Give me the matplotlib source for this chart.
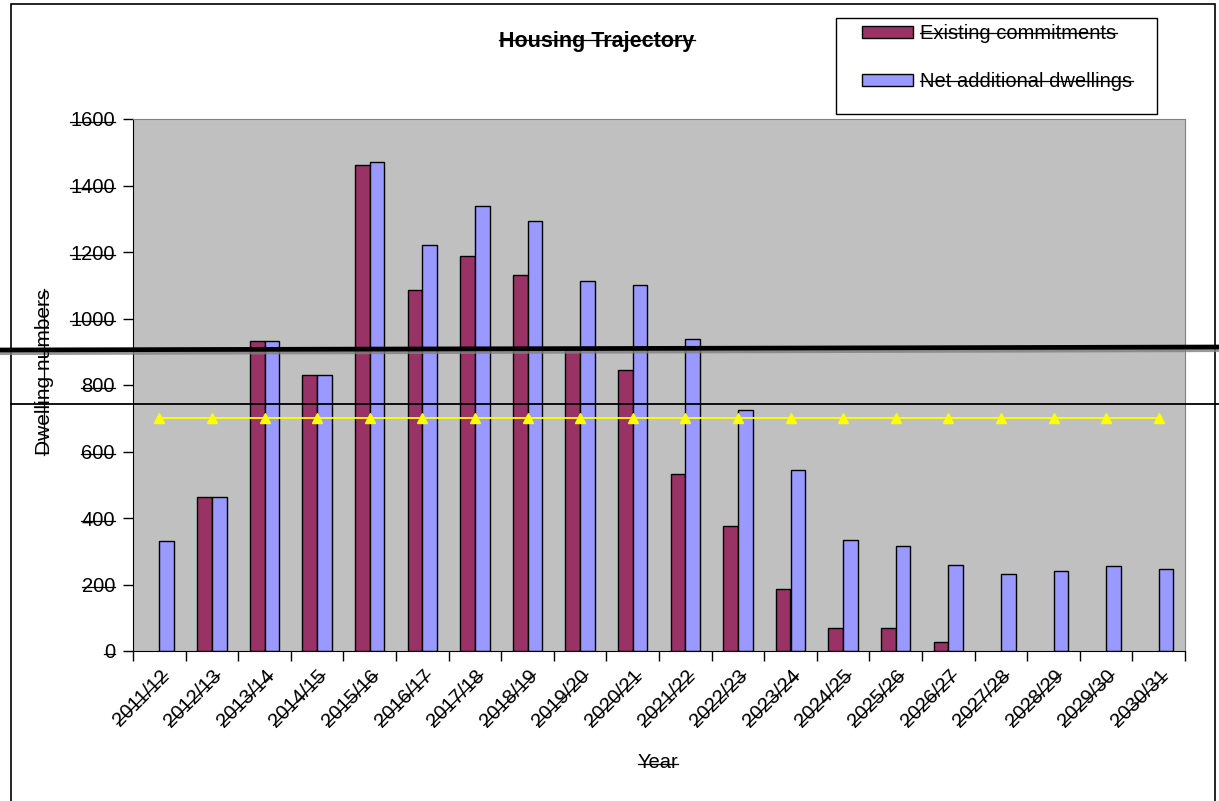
import numpy as np
import matplotlib
matplotlib.use("Agg")
import matplotlib.pyplot as plt
from matplotlib.lines import Line2D
from matplotlib.patches import Rectangle, Patch

plt.rcParams['font.family'] = ['Liberation Sans', 'DejaVu Sans']

years = ['2011/12', '2012/13', '2013/14', '2014/15', '2015/16', '2016/17', '2017/18',
         '2018/19', '2019/20', '2020/21', '2021/22', '2022/23', '2023/24', '2024/25',
         '2025/26', '2026/27', '2027/28', '2028/29', '2029/30', '2030/31']
existing = [0, 463, 933, 829, 1462, 1086, 1188, 1131, 905, 845,
            532, 376, 186, 69, 69, 27, 0, 0, 0, 0]
net_additional = [332, 463, 933, 829, 1470, 1221, 1338, 1293, 1113, 1101,
                  938, 725, 544, 334, 316, 259, 232, 241, 256, 247]
requirement = [700] * 20
yticks = [0, 200, 400, 600, 800, 1000, 1200, 1400, 1600]

W, H = 1219, 801
fs = 14.5
red, blue = '#993366', '#9999FF'
fig = plt.figure(figsize=(W / 100, H / 100), dpi=100)
ax = fig.add_axes([133 / W, 1 - 651 / H, 1052 / W, 532 / H])
ax.set_facecolor('#C0C0C0')

x = np.arange(len(years))
bw = 0.28
b1 = ax.bar(x - bw / 2, existing, bw, color=red, edgecolor='black', linewidth=1)
b2 = ax.bar(x + bw / 2, net_additional, bw, color=blue, edgecolor='black', linewidth=1)
# Excel draws nothing for an empty value
for bars, vals in [(b1, existing), (b2, net_additional)]:
    for p, v in zip(bars.patches, vals):
        if v == 0:
            p.set_visible(False)
ax.plot(x, requirement, color='#FFFF00', linewidth=1.3, marker='^', markersize=7,
        markeredgecolor='#FFFF00')

ax.set_xlim(-0.5, len(years) - 0.5)
ax.set_ylim(0, 1600)
ax.set_yticks(yticks)
ax.set_yticklabels([str(v) for v in yticks], fontsize=fs)
ax.set_xticks(x)
ax.set_xticklabels(years, fontsize=fs, rotation=45, ha='right', va='top',
                   rotation_mode='anchor')
ax.set_xticks(np.arange(len(years) + 1) - 0.5, minor=True)
ax.tick_params(axis='x', which='major', length=0, pad=11)
ax.tick_params(axis='x', which='minor', length=7, direction='out', width=1)
ax.tick_params(axis='y', length=7, direction='out', width=1, pad=6)
for s in ['top', 'right']:
    ax.spines[s].set_color('#808080')
for s in ['left', 'bottom']:
    ax.spines[s].set_color('black')

texts = []
texts.append(fig.text(597 / W, 1 - 41 / H, 'Housing Trajectory', fontsize=15.5,
                      fontweight='bold', ha='center', va='center'))
texts.append(fig.text(658 / W, 1 - 763 / H, 'Year', fontsize=fs, ha='center', va='center'))
texts.append(fig.text(45 / W, 1 - 372 / H, 'Dwelling numbers', fontsize=15,
                      rotation=90, ha='center', va='center'))

# outer chart border and legend frame
fig.add_artist(Rectangle((11 / W, -0.01), 1204 / W, 1 - 4 / H + 0.01, transform=fig.transFigure,
                         fill=False, edgecolor='black', linewidth=1.2))
fig.add_artist(Rectangle((836 / W, 1 - 114 / H), 321 / W, 96 / H, transform=fig.transFigure,
                         fill=True, facecolor='white', edgecolor='black', linewidth=1))
handles = [Patch(facecolor=red, edgecolor='black', linewidth=1),
           Patch(facecolor=blue, edgecolor='black', linewidth=1)]
leg = fig.legend(handles, ['Existing commitments', 'Net additional dwellings'],
                 loc='upper left', bbox_to_anchor=(862 / W, 1 - 24 / H), frameon=False,
                 fontsize=fs, borderpad=0, borderaxespad=0, handlelength=2.55,
                 handleheight=0.55, handletextpad=0.35, labelspacing=1.45)
texts.extend(leg.get_texts())

# scan artefacts: heavy line with shadow, thin line
fig.add_artist(Line2D([0, 1], [1 - 353 / H, 1 - 350 / H], transform=fig.transFigure,
                      color='#808080', linewidth=3, alpha=0.8))
fig.add_artist(Line2D([0, 1], [1 - 350 / H, 1 - 347 / H], transform=fig.transFigure,
                      color='black', linewidth=3.4))
fig.add_artist(Line2D([11 / W, 1], [1 - 403.5 / H, 1 - 403.5 / H], transform=fig.transFigure,
                      color='black', linewidth=1.3))

# strike through every text
fig.canvas.draw()
renderer = fig.canvas.get_renderer()
texts.extend(ax.get_xticklabels())
texts.extend(ax.get_yticklabels())
for t in texts:
    if not t.get_visible() or not t.get_text():
        continue
    bb = t.get_window_extent(renderer)
    w, h, d = renderer.get_text_width_height_descent(t.get_text(), t.get_fontproperties(),
                                                     ismath=False)
    fpx = t.get_fontsize() * fig.dpi / 72
    r = np.deg2rad(t.get_rotation())
    dx, dy = np.cos(r), np.sin(r)
    nx, ny = -np.sin(r), np.cos(r)
    shift = 0.3 * fpx - (h - 2 * d) / 2
    cx = (bb.x0 + bb.x1) / 2 + shift * nx
    cy = (bb.y0 + bb.y1) / 2 + shift * ny
    xs = [(cx - dx * w / 2) / W, (cx + dx * w / 2) / W]
    ys = [(cy - dy * w / 2) / H, (cy + dy * w / 2) / H]
    fig.add_artist(Line2D(xs, ys, transform=fig.transFigure, color='black', linewidth=0.9))

fig.savefig('out.png', dpi=100)
